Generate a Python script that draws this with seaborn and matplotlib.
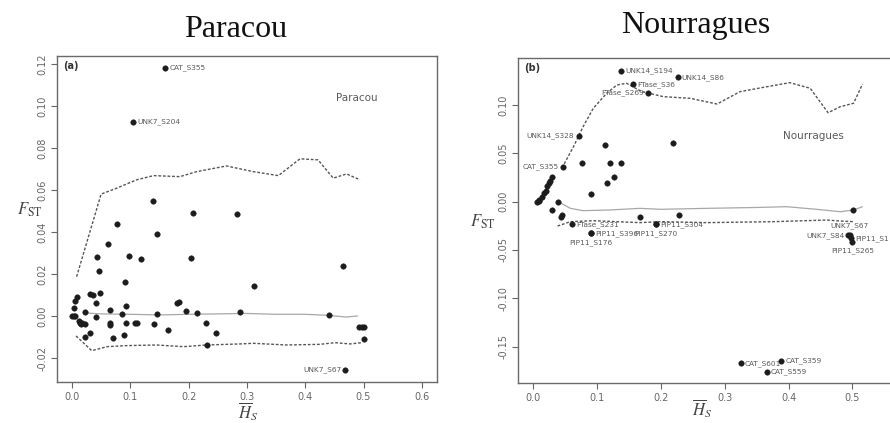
import matplotlib
matplotlib.use("Agg")
import numpy as np
import pandas as pd
import matplotlib.pyplot as plt
import seaborn as sns

# ---- Paracou (a) ----
par_hs = [0.160, 0.105, 0.139, 0.077, 0.208, 0.283, 0.145, 0.062, 0.043, 0.098,
          0.118, 0.205, 0.046, 0.091, 0.031, 0.036, 0.048, 0.008, 0.006, 0.041,
          0.180, 0.183, 0.004, 0.065, 0.093, 0.195, 0.215, 0.022, 0.085, 0.145,
          0.288, 0.000, 0.003, 0.006, 0.041, 0.012, 0.014, 0.018, 0.022, 0.016,
          0.066, 0.065, 0.093, 0.108, 0.111, 0.141, 0.230, 0.165, 0.247, 0.031,
          0.090, 0.022, 0.071, 0.231, 0.464, 0.312, 0.441, 0.493, 0.497, 0.501,
          0.501, 0.469]
par_fst = [0.1180, 0.0925, 0.0548, 0.0438, 0.0490, 0.0486, 0.0389, 0.0341, 0.0282, 0.0286,
           0.0270, 0.0278, 0.0214, 0.0163, 0.0105, 0.0100, 0.0108, 0.0089, 0.0073, 0.0060,
           0.0063, 0.0068, 0.0040, 0.0029, 0.0048, 0.0025, 0.0013, 0.0018, 0.0010, 0.0008,
           0.0019, 0.0000, 0.0000, 0.0000, -0.0006, -0.0022, -0.0032, -0.0035, -0.0036, -0.0040,
           -0.0032, -0.0042, -0.0035, -0.0035, -0.0031, -0.0038, -0.0032, -0.0067, -0.0079, -0.0083,
           -0.0090, -0.0101, -0.0103, -0.0138, 0.0238, 0.0144, 0.0003, -0.0051, -0.0053, -0.0054,
           -0.0108, -0.0257]
par_labels = ["CAT_S355", "UNK7_S204", "UNK7_S67"]
par_label_hs = [0.160, 0.105, 0.469]
par_label_fst = [0.1180, 0.0925, -0.0257]
par_label_side = ["right", "right", "left"]

par_up_hs = [0.008, 0.050, 0.074, 0.111, 0.140, 0.185, 0.214, 0.265, 0.311, 0.354,
             0.391, 0.422, 0.448, 0.471, 0.494]
par_up_fst = [0.0187, 0.0580, 0.0605, 0.0648, 0.0668, 0.0663, 0.0687, 0.0714, 0.0687, 0.0668,
              0.0748, 0.0743, 0.0656, 0.0676, 0.0648]
par_med_hs = [0.020, 0.050, 0.100, 0.150, 0.200, 0.250, 0.300, 0.350, 0.400, 0.440, 0.470, 0.490]
par_med_fst = [0.0015, 0.0010, 0.0008, 0.0005, 0.0008, 0.0010, 0.0012, 0.0008, 0.0008, 0.0003,
               -0.0005, 0.0000]
par_lo_hs = [0.007, 0.034, 0.060, 0.094, 0.145, 0.191, 0.231, 0.288, 0.311, 0.368,
             0.425, 0.451, 0.477, 0.497]
par_lo_fst = [-0.0095, -0.0165, -0.0146, -0.0141, -0.0138, -0.0146, -0.0138, -0.0133, -0.0130, -0.0138,
              -0.0135, -0.0127, -0.0133, -0.0127]

# ---- Nourragues (b) ----
nou_hs = [0.138, 0.226, 0.156, 0.180, 0.071, 0.046, 0.076, 0.112, 0.120, 0.138,
          0.127, 0.116, 0.090, 0.219, 0.005, 0.0095, 0.013, 0.016, 0.020, 0.022,
          0.0246, 0.026, 0.029, 0.0085, 0.038, 0.029, 0.045, 0.044, 0.167, 0.229,
          0.061, 0.192, 0.192, 0.090, 0.090, 0.501, 0.496, 0.494, 0.4975, 0.500,
          0.325, 0.389, 0.366]
nou_fst = [0.1353, 0.1288, 0.1215, 0.1125, 0.0680, 0.0362, 0.0404, 0.0587, 0.0398, 0.0398,
           0.0253, 0.0190, 0.0080, 0.0604, 0.0000, 0.0018, 0.0050, 0.0087, 0.0114, 0.0163,
           0.0190, 0.0218, 0.0259, 0.0010, 0.0000, -0.0082, -0.0138, -0.0162, -0.0155, -0.0138,
           -0.0234, -0.0234, -0.0234, -0.0327, -0.0327, -0.0086, -0.0340, -0.0350, -0.0379, -0.0414,
           -0.1673, -0.1650, -0.1760]
nou_labels = ["UNK14_S194", "UNK14_S86", "FTase_S36", "FTase_S269", "UNK14_S328", "CAT_S355",
              "FTase_S231", "PIP11_S304", "PIP11_S270", "PIP11_S396", "PIP11_S176",
              "UNK7_S67", "UNK7_S84", "PIP11_S1", "PIP11_S265",
              "CAT_S601", "CAT_S359", "CAT_S559"]
nou_label_hs = [0.138, 0.226, 0.156, 0.180, 0.071, 0.046,
                0.061, 0.192, 0.192, 0.090, 0.090,
                0.496, 0.494, 0.4975, 0.500,
                0.325, 0.389, 0.366]
nou_label_fst = [0.1353, 0.1288, 0.1215, 0.1125, 0.0680, 0.0362,
                 -0.0234, -0.0234, -0.0234, -0.0327, -0.0327,
                 -0.0340, -0.0350, -0.0379, -0.0414,
                 -0.1673, -0.1650, -0.1760]
nou_label_side = ["right", "right", "right", "left", "left", "left",
                  "right", "right", "below", "right", "below",
                  "above", "left", "right", "below",
                  "right", "right", "right"]

nou_up_hs = [0.045, 0.063, 0.078, 0.094, 0.115, 0.131, 0.146, 0.170, 0.204, 0.246,
             0.288, 0.324, 0.366, 0.402, 0.434, 0.462, 0.481, 0.502, 0.516]
nou_up_fst = [0.0350, 0.0570, 0.0776, 0.0967, 0.1122, 0.1208, 0.1226, 0.1140, 0.1087, 0.1070,
              0.1011, 0.1139, 0.1190, 0.1232, 0.1174, 0.0921, 0.0983, 0.1019, 0.1218]
nou_med_hs = [0.039, 0.058, 0.078, 0.120, 0.167, 0.200, 0.272, 0.350, 0.397, 0.444,
              0.481, 0.502, 0.516]
nou_med_fst = [0.0000, -0.0069, -0.0093, -0.0086, -0.0069, -0.0079, -0.0069, -0.0060, -0.0052, -0.0079,
               -0.0104, -0.0086, -0.0052]
nou_lo_hs = [0.038, 0.058, 0.094, 0.167, 0.200, 0.272, 0.376, 0.460, 0.480, 0.502]
nou_lo_fst = [-0.0252, -0.0207, -0.0197, -0.0217, -0.0207, -0.0217, -0.0207, -0.0190, -0.0200, -0.0207]

sns.set_style("white")
plt.rcParams["mathtext.fontset"] = "stix"
plt.rcParams["font.family"] = ["DejaVu Sans"]

LINE_DARK = "#555555"
LINE_MED = "#a8a8a8"
TXT = "#5a5a5a"


def draw_panel(ax, hs, fst, up, med, lo, labels, tag, inner, inner_xy,
               xlim, ylim, xticks, yticks, ylab_xy, xlab_xy):
    pts = pd.DataFrame({"hs": hs, "fst": fst})
    for (lx, ly), style in zip([up, med, lo], ["dash", "solid", "dash"]):
        d = pd.DataFrame({"hs": lx, "fst": ly})
        if style == "dash":
            sns.lineplot(data=d, x="hs", y="fst", ax=ax, color=LINE_DARK, lw=1.0,
                         linestyle=(0, (2.0, 1.3)), estimator=None, sort=False)
        else:
            sns.lineplot(data=d, x="hs", y="fst", ax=ax, color=LINE_MED, lw=0.9,
                         estimator=None, sort=False)
    sns.scatterplot(data=pts, x="hs", y="fst", ax=ax, color="#1c1c1c", s=16,
                    edgecolor="#1c1c1c", linewidth=0.3, zorder=3)

    names, lxs, lys, sides = labels
    for name, x, y, side in zip(names, lxs, lys, sides):
        if side == "right":
            off, ha, va = (3, 0), "left", "center"
        elif side == "left":
            off, ha, va = (-3, 0), "right", "center"
        elif side == "above":
            off, ha, va = (0, 4), "center", "bottom"
        else:
            off, ha, va = (0, -4), "center", "top"
        ax.annotate(name, (x, y), xytext=off, textcoords="offset points",
                    ha=ha, va=va, fontsize=5.3, color=TXT)

    ax.text(0.015, 0.985, tag, transform=ax.transAxes, ha="left", va="top",
            fontsize=7, fontweight="bold", color="#333333")
    ax.text(inner_xy[0], inner_xy[1], inner, transform=ax.transAxes, ha="center",
            va="center", fontsize=7.5, color=TXT)

    ax.set_xlim(*xlim)
    ax.set_ylim(*ylim)
    ax.set_xticks(xticks)
    ax.set_xticklabels(["%.1f" % t for t in xticks])
    ax.set_yticks(yticks)
    ax.set_yticklabels(["%.2f" % t for t in yticks], rotation=90, va="center")
    ax.tick_params(axis="both", direction="out", length=4, width=0.8,
                   color="#666666", labelcolor="#666666", labelsize=7, pad=3,
                   left=True, bottom=True)
    for sp in ax.spines.values():
        sp.set_color("#6a6a6a")
        sp.set_linewidth(1.0)
    ax.set_xlabel("")
    ax.set_ylabel("")
    ax.text(ylab_xy[0], ylab_xy[1], r"$F_{\mathrm{ST}}$", transform=ax.transAxes,
            ha="center", va="center", fontsize=12, color="#444444")
    ax.text(xlab_xy[0], xlab_xy[1], r"$\overline{H}_{S}$", transform=ax.transAxes,
            ha="center", va="center", fontsize=12, color="#444444")


fig = plt.figure(figsize=(8.9, 4.23), dpi=100)
ax1 = fig.add_axes([0.064, 0.097, 0.427, 0.771])
ax2 = fig.add_axes([0.5824, 0.0946, 0.4637, 0.7675])

draw_panel(ax1, par_hs, par_fst,
           (par_up_hs, par_up_fst), (par_med_hs, par_med_fst), (par_lo_hs, par_lo_fst),
           (par_labels, par_label_hs, par_label_fst, par_label_side),
           "(a)", "Paracou", (0.79, 0.87),
           (-0.0257, 0.626), (-0.0314, 0.1238),
           [0.0, 0.1, 0.2, 0.3, 0.4, 0.5, 0.6],
           [-0.02, 0.0, 0.02, 0.04, 0.06, 0.08, 0.10, 0.12],
           (-0.071, 0.528), (0.503, -0.09))

draw_panel(ax2, nou_hs, nou_fst,
           (nou_up_hs, nou_up_fst), (nou_med_hs, nou_med_fst), (nou_lo_hs, nou_lo_fst),
           (nou_labels, nou_label_hs, nou_label_fst, nou_label_side),
           "(b)", "Nourragues", (0.715, 0.76),
           (-0.0235, 0.6234), (-0.1877, 0.1484),
           [0.0, 0.1, 0.2, 0.3, 0.4, 0.5],
           [-0.15, -0.10, -0.05, 0.0, 0.05, 0.10],
           (-0.087, 0.495), (0.446, -0.08))

fig.text(0.265, 0.93, "Paracou", ha="center", va="center", fontsize=23,
         family=["Liberation Serif", "DejaVu Serif"], color="#111111")
fig.text(0.782, 0.94, "Nourragues", ha="center", va="center", fontsize=23,
         family=["Liberation Serif", "DejaVu Serif"], color="#111111")

fig.savefig("out.png", dpi=100)
